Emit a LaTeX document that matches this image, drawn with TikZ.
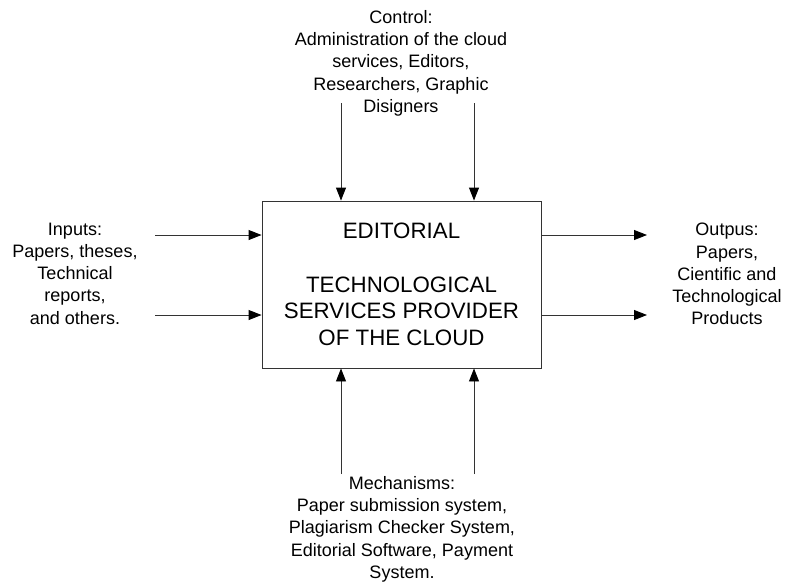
\documentclass[tikz,border=0pt]{standalone}
\usepackage{fontspec}
\setmainfont{Liberation Sans}
\usetikzlibrary{arrows.meta}

\begin{document}
\begin{tikzpicture}[x=1pt,y=-1pt,
  labeltext/.style={align=center,inner sep=0pt,anchor=north,
    font=\fontsize{18}{22.3}\selectfont},
  flow/.style={draw=black!80,line width=0.9pt,
    -{Triangle[length=13pt,width=10pt,color=black]}},
  activity/.style={draw=black!80,line width=0.9pt,inner sep=0pt,
    minimum width=279pt,minimum height=167pt,align=center,
    font=\fontsize{22.3}{26.7}\selectfont}]

  \useasboundingbox (0,0) rectangle (787,582);

  % central activity box
  \node[activity] (box) at (401.5,284.5)
    {EDITORIAL\\[26.7pt]TECHNOLOGICAL\\SERVICES PROVIDER\\OF THE CLOUD};

  % ICOM labels
  \node[labeltext] (control) at (401,10)
    {Control:\\Administration of the cloud\\services, Editors,\\Researchers, Graphic\\Disigners};
  \node[labeltext] (inputs) at (75,222.5)
    {Inputs:\\Papers, theses,\\Technical\\reports,\\and others.};
  \node[labeltext] (outputs) at (727,223)
    {Outpus:\\Papers,\\Cientific and\\Technological\\Products};
  \node[labeltext] (mech) at (402,476)
    {Mechanisms:\\Paper submission system,\\Plagiarism Checker System,\\Editorial Software, Payment\\System.};

  % free ends of the arrows
  \coordinate (c1) at (341,103);
  \coordinate (c2) at (474,103);
  \coordinate (m1) at (341,474);
  \coordinate (m2) at (474,474);
  \coordinate (i1) at (155,235);
  \coordinate (i2) at (155,315);
  \coordinate (o1) at (647,235);
  \coordinate (o2) at (647,315);

  % controls
  \draw[flow] (c1) -- (c1 |- box.north);
  \draw[flow] (c2) -- (c2 |- box.north);
  % mechanisms
  \draw[flow] (m1) -- (m1 |- box.south);
  \draw[flow] (m2) -- (m2 |- box.south);
  % inputs
  \draw[flow] (i1) -- (i1 -| box.west);
  \draw[flow] (i2) -- (i2 -| box.west);
  % outputs
  \draw[flow] (o1 -| box.east) -- (o1);
  \draw[flow] (o2 -| box.east) -- (o2);
\end{tikzpicture}
\end{document}
